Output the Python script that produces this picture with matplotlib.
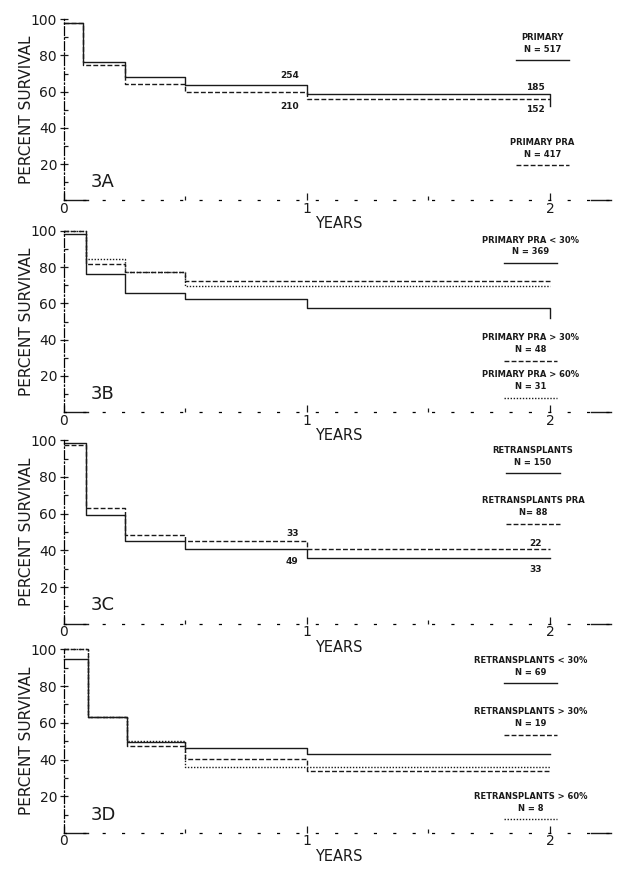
import matplotlib.pyplot as plt

# step times (years) and percent survival
t_a = [0, 0.08, 0.25, 0.5, 1.0, 2.0]
primary = [98, 76.5, 68, 63.5, 59, 52]
primary_pra = [98, 74.5, 64, 60, 56, 56]

t_b = [0, 0.09, 0.25, 0.5, 1.0, 2.0]
pra_lt30 = [98.5, 76.5, 66, 62.5, 57.5, 52]
pra_gt30 = [100, 82, 77.5, 72.5, 72.5, 72.5]
pra_gt60 = [100, 84.5, 77.5, 69.5, 69.5, 69.5]

t_c = [0, 0.09, 0.25, 0.5, 1.0, 2.0]
retx = [98.5, 59, 45, 40.5, 36, 36]
retx_pra = [97.5, 63, 48.5, 45, 40.5, 40.5]

t_d = [0, 0.1, 0.26, 0.5, 1.0, 2.0]
retx_lt30 = [94.5, 63, 49.5, 46.5, 43, 43]
retx_gt30 = [100, 63, 47.5, 40.5, 34, 34]
retx_gt60 = [100, 63, 50, 36, 36, 36]

# at-risk numbers printed on panels A and C
risk_a = [('254', 0.93, 69), ('210', 0.93, 52), ('185', 1.94, 62.5), ('152', 1.94, 50)]
risk_c = [('33', 0.94, 49), ('49', 0.94, 34), ('22', 1.94, 43.5), ('33', 1.94, 29.5)]

SOLID = '-'
DASH = (0, (3.5, 1.6))
DOT = (0, (1, 1.2))

panels = [
    ('3A', [0.102, 0.771, 0.872, 0.207],
     [(t_a, primary, SOLID), (t_a, primary_pra, DASH)],
     [(['PRIMARY', 'N = 517'], 1.97, 90, SOLID),
      (['PRIMARY PRA', 'N = 417'], 1.97, 32, DASH)],
     risk_a),
    ('3B', [0.102, 0.529, 0.872, 0.207],
     [(t_b, pra_lt30, SOLID), (t_b, pra_gt30, DASH), (t_b, pra_gt60, DOT)],
     [(['PRIMARY PRA < 30%', 'N = 369'], 1.92, 95, SOLID),
      (['PRIMARY PRA > 30%', 'N = 48'], 1.92, 41, DASH),
      (['PRIMARY PRA > 60%', 'N = 31'], 1.92, 20.5, DOT)],
     []),
    ('3C', [0.102, 0.287, 0.872, 0.210],
     [(t_c, retx, SOLID), (t_c, retx_pra, DASH)],
     [(['RETRANSPLANTS', 'N = 150'], 1.93, 94.5, SOLID),
      (['RETRANSPLANTS PRA', 'N= 88'], 1.93, 67, DASH)],
     risk_c),
    ('3D', [0.102, 0.048, 0.872, 0.210],
     [(t_d, retx_lt30, SOLID), (t_d, retx_gt30, DASH), (t_d, retx_gt60, DOT)],
     [(['RETRANSPLANTS < 30%', 'N = 69'], 1.92, 94, SOLID),
      (['RETRANSPLANTS > 30%', 'N = 19'], 1.92, 66, DASH),
      (['RETRANSPLANTS > 60%', 'N = 8'], 1.92, 20, DOT)],
     []),
]

fig = plt.figure(figsize=(6.27, 8.75), dpi=100)
ink = '#1a1a1a'

for name, rect, curves, legend, risk in panels:
    ax = fig.add_axes(rect)
    ax.set_facecolor('none')
    ax.set_xlim(0, 2.25)
    ax.set_ylim(0, 100)
    for side in ['top', 'right']:
        ax.spines[side].set_visible(False)
    ax.spines['left'].set_linestyle((0, (7, 2, 1, 2)))
    ax.spines['left'].set_linewidth(0.9)
    ax.spines['bottom'].set_linestyle((0, (1.5, 14)))
    ax.spines['bottom'].set_linewidth(0.9)
    ax.plot([0, 0.1], [0, 0], color=ink, lw=1, clip_on=False)
    ax.plot([2.17, 2.25], [0, 0], color=ink, lw=1, clip_on=False)

    ax.set_yticks([20, 40, 60, 80, 100])
    ax.set_yticks([10, 30, 50, 70, 90], minor=True)
    ax.set_xticks([0, 1, 2])
    ax.set_xticks([0.5, 1.5], minor=True)
    ax.set_xticklabels(['0', '1', '2'])
    ax.tick_params(axis='y', which='major', direction='inout', length=6, width=0.9,
                   labelsize=10, pad=2, colors=ink)
    ax.tick_params(axis='y', which='minor', direction='in', length=3, width=0.9, colors=ink)
    ax.tick_params(axis='x', which='major', direction='in', length=5, width=0.9,
                   labelsize=10, pad=1, colors=ink)
    ax.tick_params(axis='x', which='minor', direction='in', length=3, width=0.9, colors=ink)

    ax.set_ylabel('PERCENT SURVIVAL', fontsize=11, color=ink)
    ax.yaxis.set_label_coords(-0.055, 0.5)
    ax.text(1.13, -0.13, 'YEARS', transform=ax.get_xaxis_transform(),
            ha='center', va='center', fontsize=10.5, color=ink)
    ax.text(0.11, 10, name, fontsize=13, color=ink, ha='left', va='center')

    for t, s, ls in curves:
        ax.step(t, s, where='post', color=ink, lw=1.0, linestyle=ls, clip_on=False)

    for lines, xc, y, ls in legend:
        ax.text(xc, y, lines[0], ha='center', va='center', fontsize=6,
                fontweight='bold', color=ink)
        ax.text(xc, y - 6.5, lines[1], ha='center', va='center', fontsize=6,
                fontweight='bold', color=ink)
        ax.plot([xc - 0.11, xc + 0.11], [y - 12.5, y - 12.5], color=ink, lw=1.0,
                linestyle=ls, clip_on=False)

    for label, x, y in risk:
        ax.text(x, y, label, ha='center', va='center', fontsize=6.5,
                fontweight='bold', color=ink)

fig.savefig('out.png', dpi=100)
